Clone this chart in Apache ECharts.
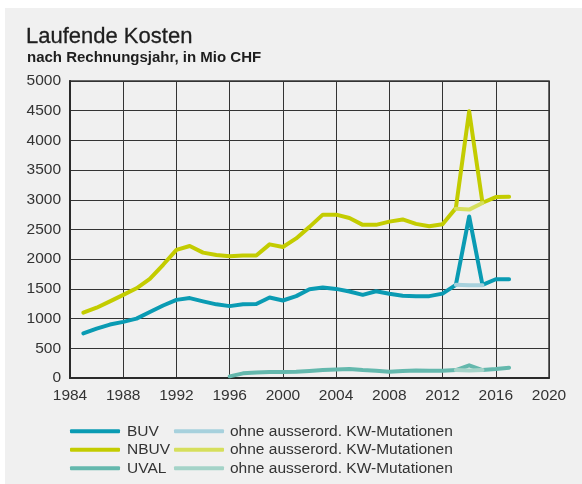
<!DOCTYPE html>
<html>
<head>
<meta charset="utf-8">
<script src="https://cdn.jsdelivr.net/npm/echarts@6/dist/echarts.min.js"></script>
<style>
html,body{margin:0;padding:0;background:#fff;}
#c{width:582px;height:484px;}
</style>
</head>
<body>
<div id="c"></div>
<script>
var years = [1985,1986,1987,1988,1989,1990,1991,1992,1993,1994,1995,1996,1997,1998,1999,2000,2001,2002,2003,2004,2005,2006,2007,2008,2009,2010,2011,2012,2013,2014,2015,2016,2017];
var buv = [750,830,900,945,1000,1110,1220,1315,1345,1290,1240,1210,1240,1245,1355,1305,1378,1495,1522,1500,1456,1400,1460,1417,1385,1375,1378,1420,1568,2720,1568,1663,1663];
var nbuv = [1100,1183,1290,1400,1510,1667,1906,2156,2222,2111,2072,2048,2061,2061,2250,2206,2350,2544,2750,2750,2694,2578,2578,2633,2670,2595,2555,2590,2860,4490,2950,3046,3052];
var uvalYears = [1996,1997,1998,1999,2000,2001,2002,2003,2004,2005,2006,2007,2008,2009,2010,2011,2012,2013,2014,2015,2016,2017];
var uval = [28,78,94,100,100,105,117,133,144,150,133,122,105,117,128,122,123,134,213,134,151,174];
var ohneYears = [2013,2014,2015];
var buvOhne = [1568,1560,1560];
var nbuvOhne = [2850,2835,2945];
var uvalOhne = [134,125,134];
var xTicks = [1984,1988,1992,1996,2000,2004,2008,2012,2016,2020];
var yTicks = [0,500,1000,1500,2000,2500,3000,3500,4000,4500,5000];
var ohneLabel = 'ohne ausserord. KW-Mutationen';

function pairs(xs, ys){ return xs.map(function(x,i){ return [x, ys[i]]; }); }

var chart = echarts.init(document.getElementById('c'), null, {renderer:'canvas'});
var font = 'Liberation Sans, Arial, Helvetica, sans-serif';
function line(name, xs, ys, color, z){
  return {
    name: name, type: 'line', data: pairs(xs, ys), showSymbol: false, symbol: 'none',
    z: z, animation: false,
    lineStyle: {color: color, width: 4, cap: 'round', join: 'round'},
    itemStyle: {color: color}
  };
}
chart.setOption({
  backgroundColor: '#ffffff',
  animation: false,
  graphic: [{type:'rect', z: -10, silent: true, shape:{x:5, y:8, width:577, height:476}, style:{fill:'#f0f0f0'}}],
  title: [
    {text: 'Laufende Kosten', left: 26, top: 26, padding: 0,
     textStyle: {fontFamily: font, fontSize: 22, fontWeight: 'normal', color: '#1e1e1e', textBorderColor: '#1e1e1e', textBorderWidth: 0.3}},
    {text: 'nach Rechnungsjahr, in Mio CHF', left: 27, top: 50, padding: 0,
     textStyle: {fontFamily: font, fontSize: 15, fontWeight: 'bold', color: '#1e1e1e'}}
  ],
  legend: [
    {data: ['BUV','NBUV','UVAL'], orient: 'vertical', left: 70, top: 422, padding: 0,
     itemWidth: 50, itemHeight: 4, itemGap: 0, icon: 'roundRect',
     textStyle: {fontFamily: font, fontSize: 15.5, color: '#333', lineHeight: 18.5, padding: [0,0,0,2]}},
    {data: ['BUV ohne','NBUV ohne','UVAL ohne'], orient: 'vertical', left: 174, top: 422, padding: 0,
     itemWidth: 50, itemHeight: 4, itemGap: 0, icon: 'roundRect',
     formatter: function(){ return ohneLabel; },
     textStyle: {fontFamily: font, fontSize: 15.5, color: '#333', lineHeight: 18.5, padding: [0,0,0,1]}}
  ],
  grid: {left: 70, right: 33, top: 81, bottom: 106, show: true, borderColor: '#3a3a3a', borderWidth: 1.5, backgroundColor: 'transparent'},
  xAxis: {
    type: 'value', min: xTicks[0], max: xTicks[xTicks.length-1], interval: 4,
    axisLine: {show: true, lineStyle: {color: '#2a2a2a', width: 2}},
    axisTick: {show: false},
    splitLine: {show: true, lineStyle: {color: '#333', width: 1}},
    axisLabel: {fontFamily: font, fontSize: 15.5, color: '#333', margin: 10, showMinLabel: true, showMaxLabel: true,
      formatter: function(v){ return xTicks.indexOf(v) >= 0 ? String(v) : ''; }}
  },
  yAxis: {
    type: 'value', min: yTicks[0], max: yTicks[yTicks.length-1], interval: 500,
    axisLine: {show: true, lineStyle: {color: '#2a2a2a', width: 2}},
    axisTick: {show: false},
    splitLine: {show: true, lineStyle: {color: '#333', width: 1}},
    axisLabel: {fontFamily: font, fontSize: 15.5, color: '#333', margin: 9,
      formatter: function(v){ return yTicks.indexOf(v) >= 0 ? String(v) : ''; }}
  },
  series: [
    line('BUV', years, buv, '#0a9bb3', 3),
    line('NBUV', years, nbuv, '#c3cc00', 3),
    line('UVAL', uvalYears, uval, '#64b8ad', 3),
    line('BUV ohne', ohneYears, buvOhne, '#a7d1dd', 4),
    line('NBUV ohne', ohneYears, nbuvOhne, '#d6df5c', 4),
    line('UVAL ohne', ohneYears, uvalOhne, '#a4d3c8', 4)
  ]
});
</script>
</body>
</html>
